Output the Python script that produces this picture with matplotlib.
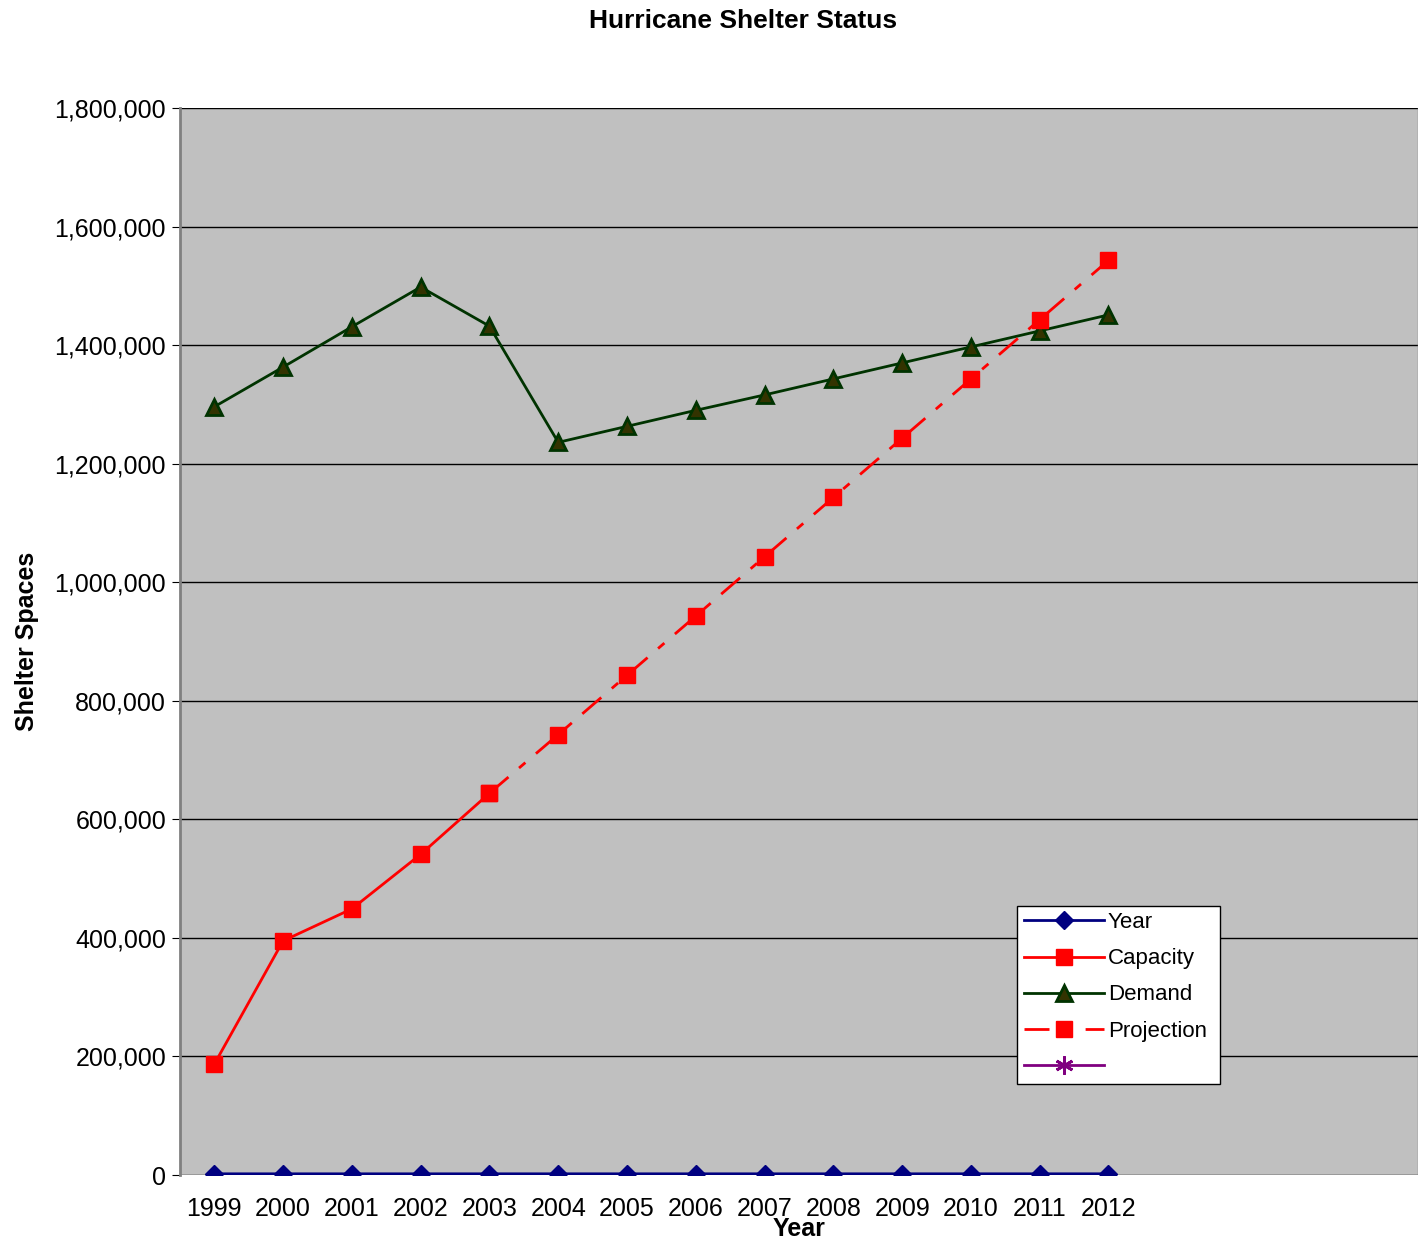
import matplotlib.pyplot as plt
from matplotlib.ticker import FuncFormatter

plt.rcParams['font.family'] = ['Liberation Sans', 'DejaVu Sans']

# Shelter data by year
years = ['1999', '2000', '2001', '2002', '2003', '2004', '2005',
         '2006', '2007', '2008', '2009', '2010', '2011', '2012']
year_values = [1999, 2000, 2001, 2002, 2003, 2004, 2005,
               2006, 2007, 2008, 2009, 2010, 2011, 2012]
capacity = [187000, 395000, 449000, 541000, 644000]
demand = [1296000, 1363000, 1431000, 1498000, 1432000, 1236000, 1263000,
          1290000, 1316000, 1343000, 1370000, 1397000, 1424000, 1451000]
projection = [644000, 743000, 843000, 943000, 1043000, 1143000, 1243000,
              1343000, 1443000, 1543000]

n_slots = 18  # category axis has room for four empty slots on the right
x = list(range(len(years)))

fig = plt.figure(figsize=(14.28, 12.43), dpi=100)
ax = fig.add_axes([0.126, 0.0547, 0.867, 0.8584])
ax.set_facecolor('#C0C0C0')

ax.plot(x, year_values, color='#000080', lw=2, marker='D', ms=9,
        mfc='#000080', mec='#000080', label='Year', zorder=3)
ax.plot(x[:len(capacity)], capacity, color='#FF0000', lw=2, marker='s',
        ms=11, mfc='#FF0000', mec='#FF0000', label='Capacity', zorder=4)
ax.plot(x, demand, color='#003300', lw=2, marker='^', ms=12,
        mfc='#333300', mec='#003300', mew=2, label='Demand', zorder=4)
ax.plot(x[4:], projection, color='#FF0000', lw=2, ls=(0, (9, 5, 3, 5)),
        marker='s', ms=11, mfc='#FF0000', mec='#FF0000',
        label='Projection', zorder=4)
ax.plot([], [], color='#800080', lw=2, marker=(6, 2, 0), ms=13, mew=2,
        label=' ')

ax.set_xlim(-0.5, n_slots - 0.5)
ax.set_ylim(0, 1800000)
ax.set_xticks(x)
ax.set_xticklabels(years)
ax.set_yticks(range(0, 1800001, 200000))
ax.yaxis.set_major_formatter(FuncFormatter(lambda v, p: f'{int(v):,}'))
ax.tick_params(axis='x', length=0, labelsize=18, pad=16)
ax.tick_params(axis='y', length=6, direction='out', labelsize=18, pad=4,
               color='black')
ax.grid(axis='y', color='black', lw=1)
ax.set_axisbelow(True)

for side in ['top', 'right', 'bottom']:
    ax.spines[side].set_visible(False)
ax.spines['left'].set_color('#808080')
ax.spines['left'].set_linewidth(2)
ax.axvline(n_slots - 0.5, color='#808080', lw=1)

ax.set_xlabel('Year', fontsize=18, fontweight='bold', labelpad=-3)
ax.set_ylabel('Shelter Spaces', fontsize=18, fontweight='bold', labelpad=11)
fig.text(0.5205, 0.993, 'Hurricane Shelter Status', ha='center', va='top',
         fontsize=19, fontweight='bold')

leg = ax.legend(loc='lower left', bbox_to_anchor=(0.676, 0.085, 0.164, 0.163),
                mode='expand', fontsize=16, frameon=True, fancybox=False,
                handlelength=3.6, borderpad=0.3, labelspacing=0.68,
                handletextpad=0.2, borderaxespad=0)
leg.get_frame().set_edgecolor('black')
leg.get_frame().set_facecolor('white')
leg.get_frame().set_alpha(1)

fig.savefig('out.png', dpi=100)
